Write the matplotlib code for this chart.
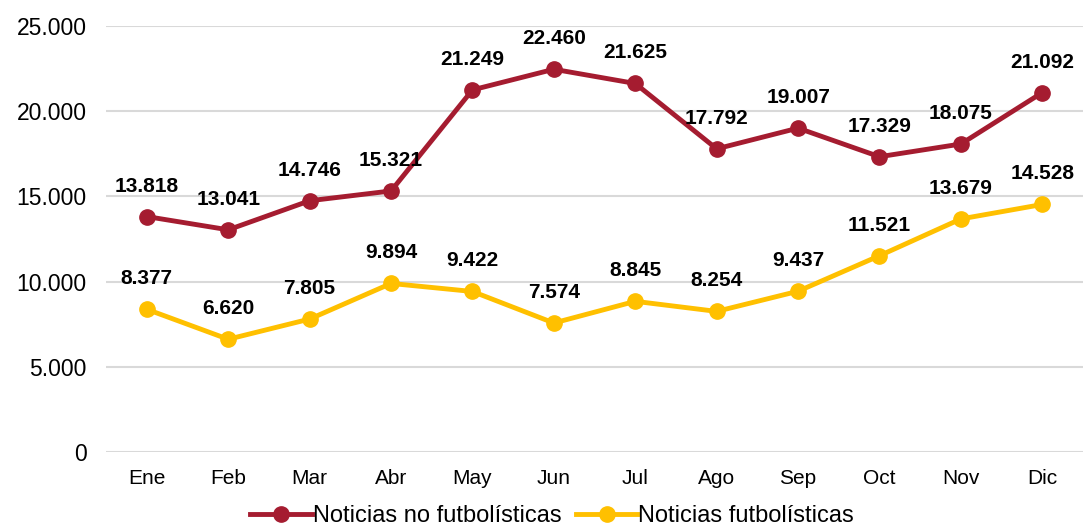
import matplotlib.pyplot as plt
import matplotlib.ticker as mticker

plt.rcParams['font.family'] = ['Liberation Sans', 'DejaVu Sans']

months = ['Ene', 'Feb', 'Mar', 'Abr', 'May', 'Jun', 'Jul', 'Ago', 'Sep', 'Oct', 'Nov', 'Dic']
no_futbol = [13818, 13041, 14746, 15321, 21249, 22460, 21625, 17792, 19007, 17329, 18075, 21092]
futbol = [8377, 6620, 7805, 9894, 9422, 7574, 8845, 8254, 9437, 11521, 13679, 14528]

red = '#A51C30'
yellow = '#FFC000'


def fmt_miles(v, pos=None):
    return '{:,.0f}'.format(v).replace(',', '.')


fig = plt.figure(figsize=(10.83, 5.30), dpi=100)
ax = fig.add_axes([0.098, 0.147, 0.902, 0.804])

x = list(range(len(months)))
ax.plot(x, no_futbol, color=red, lw=3.5, marker='o', ms=11, label='Noticias no futbolísticas', zorder=3)
ax.plot(x, futbol, color=yellow, lw=3.5, marker='o', ms=11, label='Noticias futbolísticas', zorder=3)

# etiquetas de datos
for serie in (no_futbol, futbol):
    for i, v in enumerate(serie):
        ax.annotate(fmt_miles(v), (i, v), xytext=(0, 22), textcoords='offset points',
                    ha='center', va='center', fontsize=15, fontweight='bold', color='black')

ax.set_xlim(-0.5, len(months) - 0.5)
ax.set_ylim(0, 25000)
ax.set_xticks(x)
ax.set_xticklabels(months)
ax.yaxis.set_major_locator(mticker.MultipleLocator(5000))
ax.yaxis.set_major_formatter(mticker.FuncFormatter(fmt_miles))
ax.tick_params(axis='x', length=0, labelsize=15, pad=12)
ax.tick_params(axis='y', length=0, labelsize=16.5, pad=14)
ax.grid(axis='y', color='#D9D9D9', lw=1.5)
ax.set_axisbelow(True)
for s in ax.spines.values():
    s.set_visible(False)

fig.legend(loc='lower center', bbox_to_anchor=(0.51, -0.035), ncol=2, frameon=False,
           fontsize=17, handlelength=2.6, handletextpad=0.05, columnspacing=0.6)

fig.savefig('out.png', dpi=100)
